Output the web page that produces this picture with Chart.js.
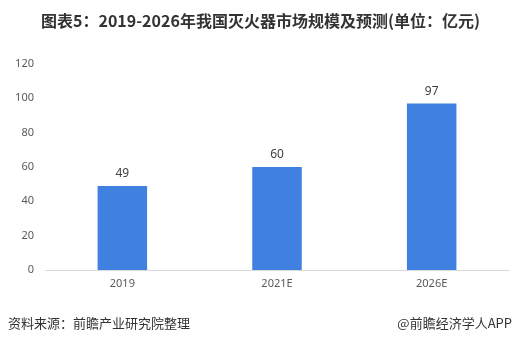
<!DOCTYPE html>
<html>
<head>
<meta charset="utf-8">
<script src="https://cdn.jsdelivr.net/npm/chart.js@4"></script>
<style>
  html, body { margin: 0; padding: 0; background: #fff; }
  #wrap { position: relative; width: 521px; height: 342px; overflow: hidden; }
  #title {
    position: absolute; left: 0; top: 8px; width: 521px; text-align: center;
    font: bold 16px "Noto Sans CJK SC", sans-serif; color: #333;
  }
  .foot {
    position: absolute; top: 313px;
    font: 13px "Noto Sans CJK SC", sans-serif; color: #333;
  }
  #src { left: 8px; }
  #app { right: 9px; }
  canvas { position: absolute; left: 0; top: 0; }
</style>
</head>
<body>
<div id="wrap">
  <canvas id="chart" width="521" height="342"></canvas>
  <div id="title">图表5：2019-2026年我国灭火器市场规模及预测(单位：亿元)</div>
  <div class="foot" id="src">资料来源：前瞻产业研究院整理</div>
  <div class="foot" id="app">@前瞻经济学人APP</div>
</div>
<script>
// chart values
const categories = ['2019', '2021E', '2026E']
const marketSize = [49, 60, 97]
const yTicks = [0, 20, 40, 60, 80, 100, 120]

// draw value above each bar
const valueLabels = {
  id: 'valueLabels',
  afterDatasetsDraw(chart) {
    const ctx = chart.ctx
    const meta = chart.getDatasetMeta(0)
    ctx.save()
    ctx.font = '12px "Noto Sans", sans-serif'
    ctx.fillStyle = '#404040'
    ctx.textAlign = 'center'
    ctx.textBaseline = 'bottom'
    meta.data.forEach((bar, i) => {
      ctx.fillText(marketSize[i], bar.x, bar.y - 6)
    })
    ctx.restore()
  }
}

new Chart(document.getElementById('chart').getContext('2d'), {
  type: 'bar',
  data: {
    labels: categories,
    datasets: [{
      data: marketSize,
      backgroundColor: '#3F80E0',
      barPercentage: 0.32,
      categoryPercentage: 1
    }]
  },
  options: {
    responsive: false,
    animation: false,
    layout: { padding: { top: 64, right: 12, bottom: 42, left: 0 } },
    plugins: { legend: { display: false }, tooltip: { enabled: false } },
    scales: {
      x: {
        grid: { display: false, drawTicks: false },
        border: { color: '#D9D9D9', width: 1 },
        ticks: { color: '#595959', font: { size: 11, family: '"Noto Sans", sans-serif' }, padding: 7 },
        afterFit(axis) { axis.height = 30 }
      },
      y: {
        min: 0,
        max: 120,
        afterBuildTicks(axis) { axis.ticks = yTicks.map(v => ({ value: v })) },
        grid: { display: false, drawTicks: false },
        border: { display: false },
        ticks: { color: '#595959', font: { size: 11, family: '"Noto Sans", sans-serif' }, padding: 11 },
        afterFit(axis) { axis.width = 45 }
      }
    }
  },
  plugins: [valueLabels]
})
</script>
</body>
</html>
